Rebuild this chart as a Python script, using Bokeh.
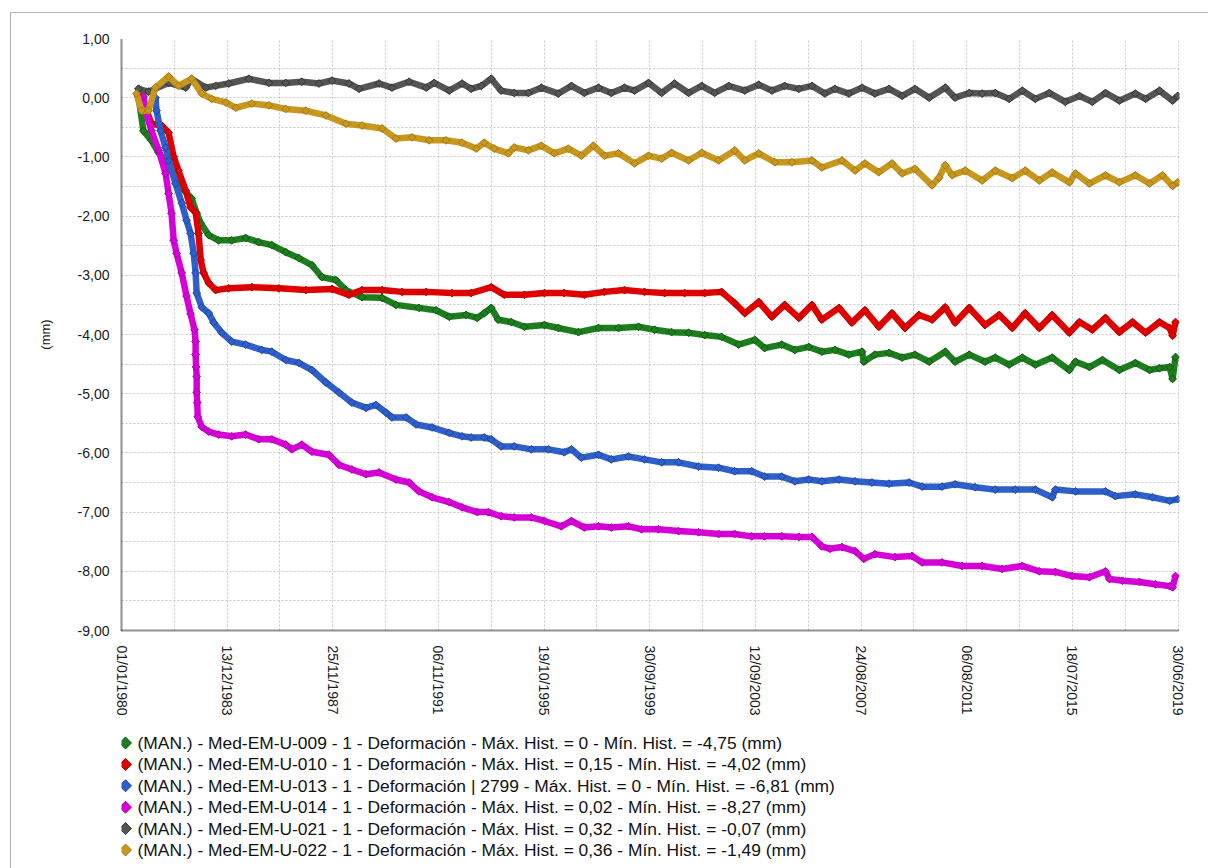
from datetime import datetime, timedelta
from math import pi

from bokeh.core.properties import value
from bokeh.embed import file_html
from bokeh.layouts import column
from bokeh.models import DatetimeTickFormatter, FixedTicker, Range1d
from bokeh.plotting import figure
from bokeh.resources import INLINE

# ---------------------------------------------------------------- axes
x_tick_labels = ["01/01/1980", "13/12/1983", "25/11/1987", "06/11/1991",
                 "19/10/1995", "30/09/1999", "12/09/2003", "24/08/2007",
                 "06/08/2011", "18/07/2015", "30/06/2019"]
y_tick_values = [1, 0, -1, -2, -3, -4, -5, -6, -7, -8, -9]
y_tick_labels = ["1,00", "0,00", "-1,00", "-2,00", "-3,00", "-4,00",
                 "-5,00", "-6,00", "-7,00", "-8,00", "-9,00"]

# ---------------------------------------------------------------- series
# (decimal year, deformation in mm)
names = [
    "(MAN.) - Med-EM-U-009 - 1 - Deformación - Máx. Hist. = 0 - Mín. Hist. = -4,75 (mm)",
    "(MAN.) - Med-EM-U-010 - 1 - Deformación - Máx. Hist. = 0,15 - Mín. Hist. = -4,02 (mm)",
    "(MAN.) - Med-EM-U-013 - 1 - Deformación | 2799 - Máx. Hist. = 0 - Mín. Hist. = -6,81 (mm)",
    "(MAN.) - Med-EM-U-014 - 1 - Deformación - Máx. Hist. = 0,02 - Mín. Hist. = -8,27 (mm)",
    "(MAN.) - Med-EM-U-021 - 1 - Deformación - Máx. Hist. = 0,32 - Mín. Hist. = -0,07 (mm)",
    "(MAN.) - Med-EM-U-022 - 1 - Deformación - Máx. Hist. = 0,36 - Mín. Hist. = -1,49 (mm)",
]
colors = ["#1e7d1e", "#e00000", "#2f5fc8", "#d800d8", "#555555", "#c8981e"]
edges = ["#0f5a0f", "#b00000", "#1f45a0", "#a800a8", "#333333", "#a07815"]

u009_t = [1980.64, 1980.82, 1981.12, 1981.39, 1981.87, 1982.25, 1982.62, 1982.81,
          1982.96, 1983.26, 1983.63, 1984.12, 1984.64, 1985.13, 1985.62, 1986.14,
          1986.63, 1987.12, 1987.49, 1988.01, 1988.39, 1988.99, 1989.74, 1990.26,
          1991.12, 1991.76, 1992.25, 1992.88, 1993.30, 1993.56, 1993.82, 1994.08,
          1994.57, 1995.06, 1995.81, 1996.33, 1997.08, 1997.83, 1998.58, 1999.33,
          1999.93, 2000.56, 2001.20, 2001.80, 2002.43, 2003.07, 2003.67, 2004.04,
          2004.68, 2005.17, 2005.69, 2006.18, 2006.67, 2007.19, 2007.68, 2007.75,
          2008.16, 2008.69, 2009.18, 2009.66, 2010.19, 2010.79, 2011.16, 2011.69,
          2012.28, 2012.66, 2013.18, 2013.67, 2014.16, 2014.79, 2015.43, 2015.66,
          2016.18, 2016.67, 2017.30, 2017.90, 2018.43, 2018.80, 2019.18, 2019.29,
          2019.40]
u009_v = [0.00, -0.56, -0.72, -0.93, -1.23, -1.52, -1.70, -1.95,
          -2.12, -2.32, -2.41, -2.41, -2.37, -2.44, -2.49, -2.61,
          -2.71, -2.83, -3.03, -3.08, -3.25, -3.37, -3.38, -3.50,
          -3.55, -3.59, -3.70, -3.67, -3.72, -3.64, -3.55, -3.75,
          -3.79, -3.87, -3.84, -3.89, -3.96, -3.89, -3.89, -3.87,
          -3.92, -3.96, -3.97, -4.01, -4.04, -4.17, -4.09, -4.23,
          -4.17, -4.26, -4.21, -4.29, -4.26, -4.34, -4.29, -4.46,
          -4.34, -4.31, -4.39, -4.34, -4.46, -4.29, -4.46, -4.34,
          -4.46, -4.39, -4.51, -4.39, -4.51, -4.39, -4.60, -4.46,
          -4.55, -4.43, -4.60, -4.48, -4.60, -4.57, -4.55, -4.75,
          -4.38]

u010_t = [1980.64, 1981.12, 1981.50, 1981.76, 1981.95, 1982.13, 1982.40, 1982.58,
          1982.77, 1982.88, 1982.96, 1983.07, 1983.26, 1983.52, 1984.01, 1984.87,
          1985.88, 1986.89, 1987.87, 1988.50, 1988.99, 1989.74, 1990.49, 1991.39,
          1992.36, 1993.07, 1993.82, 1994.31, 1995.06, 1995.81, 1996.55, 1997.30,
          1998.05, 1998.80, 1999.55, 2000.30, 2001.05, 2001.80, 2002.43, 2002.92,
          2003.30, 2003.82, 2004.31, 2004.79, 2005.32, 2005.81, 2006.18, 2006.82,
          2007.30, 2007.79, 2008.31, 2008.80, 2009.29, 2009.81, 2010.30, 2010.79,
          2011.16, 2011.69, 2012.28, 2012.81, 2013.30, 2013.78, 2014.31, 2014.79,
          2015.43, 2015.81, 2016.29, 2016.78, 2017.30, 2017.79, 2018.28, 2018.80,
          2019.18, 2019.29, 2019.40]
u010_v = [0.15, -0.44, -0.47, -0.59, -1.00, -1.23, -1.57, -1.85,
          -1.94, -2.29, -2.74, -2.96, -3.13, -3.25, -3.22, -3.20,
          -3.22, -3.25, -3.23, -3.33, -3.25, -3.25, -3.28, -3.28,
          -3.30, -3.30, -3.20, -3.33, -3.33, -3.30, -3.30, -3.33,
          -3.28, -3.25, -3.28, -3.30, -3.30, -3.30, -3.28, -3.47,
          -3.64, -3.45, -3.70, -3.50, -3.72, -3.50, -3.75, -3.55,
          -3.80, -3.59, -3.87, -3.64, -3.89, -3.67, -3.75, -3.54,
          -3.80, -3.55, -3.84, -3.67, -3.89, -3.64, -3.89, -3.67,
          -3.97, -3.79, -3.92, -3.72, -3.96, -3.79, -3.97, -3.79,
          -3.89, -4.02, -3.79]

u013_t = [1981.27, 1981.31, 1981.46, 1981.65, 1981.76, 1982.02, 1982.25, 1982.43,
          1982.58, 1982.70, 1982.77, 1982.81, 1983.00, 1983.26, 1983.45, 1983.75,
          1984.12, 1984.64, 1985.24, 1985.62, 1986.14, 1986.63, 1987.12, 1987.64,
          1988.13, 1988.61, 1989.14, 1989.51, 1989.89, 1990.11, 1990.64, 1991.01,
          1991.61, 1992.25, 1992.73, 1993.07, 1993.56, 1993.82, 1994.19, 1994.68,
          1995.32, 1995.96, 1996.55, 1996.82, 1997.19, 1997.83, 1998.31, 1998.95,
          1999.55, 2000.19, 2000.82, 2001.57, 2002.32, 2002.92, 2003.56, 2004.04,
          2004.68, 2005.17, 2005.69, 2006.18, 2006.82, 2007.42, 2008.05, 2008.69,
          2009.44, 2009.93, 2010.67, 2011.16, 2011.91, 2012.66, 2013.41, 2014.16,
          2014.79, 2014.91, 2015.66, 2016.78, 2017.15, 2017.90, 2018.54, 2019.18,
          2019.48]
u013_v = [0.00, -0.22, -0.56, -0.84, -1.06, -1.45, -1.78, -2.07,
          -2.29, -2.63, -2.96, -3.30, -3.54, -3.64, -3.80, -3.97,
          -4.12, -4.17, -4.26, -4.29, -4.43, -4.48, -4.60, -4.81,
          -4.98, -5.15, -5.24, -5.19, -5.32, -5.40, -5.40, -5.52,
          -5.57, -5.66, -5.72, -5.74, -5.74, -5.77, -5.89, -5.89,
          -5.94, -5.94, -5.99, -5.94, -6.08, -6.03, -6.11, -6.06,
          -6.11, -6.16, -6.16, -6.23, -6.25, -6.31, -6.31, -6.40,
          -6.40, -6.48, -6.45, -6.48, -6.45, -6.48, -6.50, -6.52,
          -6.50, -6.57, -6.57, -6.53, -6.58, -6.62, -6.62, -6.62,
          -6.75, -6.62, -6.65, -6.65, -6.73, -6.70, -6.75, -6.81,
          -6.78]

u014_t = [1980.82, 1980.90, 1981.12, 1981.39, 1981.65, 1981.76, 1981.87, 1981.95,
          1982.06, 1982.25, 1982.43, 1982.58, 1982.73, 1982.77, 1982.77, 1982.79,
          1982.81, 1982.81, 1982.83, 1982.85, 1983.00, 1983.26, 1983.63, 1984.12,
          1984.64, 1985.13, 1985.62, 1986.14, 1986.37, 1986.74, 1987.12, 1987.75,
          1988.13, 1988.61, 1989.14, 1989.63, 1990.26, 1990.75, 1991.12, 1991.61,
          1992.25, 1992.73, 1993.30, 1993.71, 1994.19, 1994.68, 1995.32, 1995.81,
          1996.44, 1996.82, 1997.30, 1997.83, 1998.31, 1998.95, 1999.44, 2000.07,
          2000.82, 2001.57, 2002.32, 2002.92, 2003.56, 2004.04, 2004.68, 2005.32,
          2005.81, 2006.18, 2006.48, 2006.93, 2007.42, 2007.75, 2008.16, 2008.91,
          2009.55, 2009.93, 2010.67, 2011.42, 2012.17, 2012.92, 2013.67, 2014.31,
          2014.91, 2015.54, 2016.18, 2016.78, 2016.93, 2017.42, 2018.05, 2018.65,
          2019.18, 2019.29, 2019.40]
u014_v = [0.02, -0.22, -0.56, -0.89, -1.28, -1.62, -1.95, -2.41,
          -2.63, -2.96, -3.35, -3.65, -3.92, -4.12, -4.34, -4.55,
          -4.71, -4.98, -5.15, -5.39, -5.56, -5.64, -5.69, -5.72,
          -5.69, -5.77, -5.77, -5.86, -5.94, -5.86, -5.98, -6.03,
          -6.20, -6.28, -6.36, -6.33, -6.45, -6.50, -6.65, -6.75,
          -6.83, -6.92, -7.00, -7.00, -7.07, -7.09, -7.09, -7.15,
          -7.24, -7.15, -7.26, -7.24, -7.26, -7.24, -7.29, -7.29,
          -7.32, -7.34, -7.37, -7.37, -7.41, -7.41, -7.41, -7.42,
          -7.42, -7.58, -7.62, -7.59, -7.66, -7.79, -7.71, -7.76,
          -7.74, -7.85, -7.85, -7.91, -7.91, -7.96, -7.91, -8.00,
          -8.01, -8.08, -8.10, -8.00, -8.13, -8.16, -8.18, -8.22,
          -8.25, -8.27, -8.08]

u021_t = [1980.64, 1981.01, 1981.76, 1982.40, 1982.62, 1983.15, 1983.52, 1984.01,
          1984.76, 1985.51, 1986.14, 1986.74, 1987.38, 1987.87, 1988.50, 1988.88,
          1989.63, 1990.11, 1990.75, 1991.39, 1991.69, 1992.25, 1992.73, 1993.07,
          1993.45, 1993.82, 1994.19, 1994.68, 1995.21, 1995.69, 1996.33, 1996.82,
          1997.30, 1997.83, 1998.31, 1998.80, 1999.18, 1999.70, 2000.19, 2000.67,
          2001.20, 2001.69, 2002.17, 2002.70, 2003.30, 2003.82, 2004.31, 2004.79,
          2005.32, 2005.81, 2006.29, 2006.67, 2007.19, 2007.68, 2008.16, 2008.69,
          2009.18, 2009.66, 2010.19, 2010.79, 2011.16, 2011.69, 2012.17, 2012.66,
          2013.18, 2013.67, 2014.16, 2014.68, 2015.28, 2015.81, 2016.29, 2016.78,
          2017.30, 2017.90, 2018.28, 2018.80, 2019.29, 2019.48]
u021_v = [0.15, 0.10, 0.25, 0.17, 0.32, 0.17, 0.20, 0.24,
          0.32, 0.25, 0.25, 0.27, 0.24, 0.29, 0.24, 0.15,
          0.24, 0.17, 0.27, 0.17, 0.25, 0.12, 0.24, 0.15,
          0.20, 0.32, 0.12, 0.08, 0.08, 0.17, 0.07, 0.20,
          0.08, 0.17, 0.08, 0.17, 0.12, 0.25, 0.08, 0.24,
          0.08, 0.20, 0.08, 0.20, 0.12, 0.22, 0.12, 0.20,
          0.15, 0.20, 0.07, 0.15, 0.07, 0.17, 0.07, 0.15,
          0.03, 0.15, 0.00, 0.17, 0.00, 0.08, 0.07, 0.08,
          -0.02, 0.12, -0.02, 0.08, -0.07, 0.03, -0.07, 0.08,
          -0.05, 0.07, -0.02, 0.12, -0.05, 0.03]

u022_t = [1980.56, 1980.75, 1981.01, 1981.27, 1981.76, 1982.13, 1982.62, 1983.00,
          1983.37, 1983.90, 1984.27, 1984.87, 1985.51, 1986.14, 1986.89, 1987.64,
          1988.39, 1988.99, 1989.74, 1990.26, 1990.86, 1991.50, 1992.13, 1992.73,
          1993.26, 1993.56, 1993.93, 1994.46, 1994.68, 1995.21, 1995.69, 1996.18,
          1996.70, 1997.19, 1997.64, 1998.05, 1998.58, 1999.18, 1999.70, 2000.19,
          2000.56, 2001.20, 2001.69, 2002.32, 2002.92, 2003.30, 2003.82, 2004.42,
          2005.06, 2005.81, 2006.18, 2006.93, 2007.42, 2007.79, 2008.31, 2008.80,
          2009.18, 2009.66, 2010.30, 2010.56, 2010.79, 2011.05, 2011.54, 2012.17,
          2012.66, 2013.30, 2013.78, 2014.31, 2014.79, 2015.43, 2015.66, 2016.18,
          2016.78, 2017.30, 2017.90, 2018.43, 2018.91, 2019.29, 2019.48]
u022_v = [0.07, -0.22, -0.22, 0.17, 0.36, 0.20, 0.32, 0.07,
          -0.02, -0.08, -0.17, -0.10, -0.13, -0.19, -0.22, -0.30,
          -0.44, -0.47, -0.52, -0.69, -0.67, -0.72, -0.72, -0.76,
          -0.86, -0.76, -0.86, -0.94, -0.84, -0.89, -0.81, -0.94,
          -0.86, -0.98, -0.81, -0.98, -0.94, -1.11, -0.98, -1.03,
          -0.93, -1.06, -0.93, -1.06, -0.89, -1.06, -0.94, -1.09,
          -1.09, -1.06, -1.18, -1.06, -1.23, -1.11, -1.26, -1.11,
          -1.28, -1.20, -1.48, -1.35, -1.14, -1.31, -1.23, -1.40,
          -1.23, -1.36, -1.23, -1.40, -1.26, -1.43, -1.28, -1.45,
          -1.31, -1.43, -1.31, -1.45, -1.31, -1.49, -1.43]

series_t = [u009_t, u010_t, u013_t, u014_t, u021_t, u022_t]
series_v = [u009_v, u010_v, u013_v, u014_v, u021_v, u022_v]

# ---------------------------------------------------------------- helpers
EPOCH = datetime(1980, 1, 1)


def year_to_date(year):
    return EPOCH + timedelta(days=(year - 1980.0) * 365.25)


def to_ms(dt):
    return (dt - datetime(1970, 1, 1)).total_seconds() * 1000.0


tick_dates = [datetime.strptime(s, "%d/%m/%Y") for s in x_tick_labels]
tick_ms = [to_ms(d) for d in tick_dates]
grid_ms = []
for a, b in zip(tick_ms[:-1], tick_ms[1:]):
    grid_ms += [a, (a + b) / 2.0]
grid_ms.append(tick_ms[-1])

FONT = "Liberation Sans"

# ---------------------------------------------------------------- chart
p = figure(width=1197, height=712, x_axis_type="datetime",
           output_backend="svg", toolbar_location=None,
           x_range=Range1d(tick_ms[0], tick_ms[-1] + 20 * 86400000.0),
           y_range=Range1d(-9, 1),
           min_border_left=110, min_border_right=29,
           min_border_top=25, min_border_bottom=95,
           background_fill_color="white", border_fill_color="white")
p.outline_line_color = None

# grid: dotted light grey at half intervals
p.xgrid.ticker = FixedTicker(ticks=grid_ms)
p.ygrid.ticker = FixedTicker(ticks=[v / 2.0 for v in range(-18, 3)])
for g in (p.xgrid, p.ygrid):
    g.grid_line_color = "#c9c9c9"
    g.grid_line_dash = "2 2"
    g.grid_line_width = 1

xa = p.xaxis[0]
xa.ticker = FixedTicker(ticks=tick_ms)
fmt = "%d/%m/%Y"
xa.formatter = DatetimeTickFormatter(milliseconds=fmt, seconds=fmt, minsec=fmt,
                                     minutes=fmt, hourmin=fmt, hours=fmt,
                                     days=fmt, months=fmt, years=fmt)
xa.major_label_orientation = "vertical"
xa.major_label_standoff = 9

ya = p.yaxis[0]
ya.ticker = FixedTicker(ticks=y_tick_values)
ya.major_label_overrides = {float(v): s for v, s in zip(y_tick_values, y_tick_labels)}
ya.major_label_standoff = 6
ya.axis_label = "(mm)"
ya.axis_label_standoff = 22
ya.axis_label_text_font = FONT
ya.axis_label_text_font_size = "13px"
ya.axis_label_text_font_style = "normal"
ya.axis_label_text_color = "#222222"

for ax in (xa, ya):
    ax.axis_line_color = "#202020"
    ax.axis_line_dash = "1 1"
    ax.axis_line_width = 2
    ax.major_tick_line_color = None
    ax.minor_tick_line_color = None
    ax.major_label_text_font = FONT
    ax.major_label_text_font_size = "14px"
    ax.major_label_text_color = "#1a1a1a"

# data: thick line through the readings with a diamond at each reading
for t, v, c, e in zip(series_t, series_v, colors, edges):
    xs = [year_to_date(y) for y in t]
    p.line(xs, v, line_color=c, line_width=6.5, line_join="round")
    p.scatter(xs, v, marker="square", angle=pi / 4, size=5.5, fill_color=c,
              line_color=e, line_width=1)

# ---------------------------------------------------------------- legend strip
# a key panel in pixel units: one row per series, diamond key + label
KEY_W, KEY_H = 1058, 143
ROW_TOP, ROW_STEP = 17.5, 21.4
k = figure(width=1197, height=KEY_H, output_backend="svg", toolbar_location=None,
           x_axis_location=None, y_axis_location=None,
           x_range=Range1d(0, KEY_W), y_range=Range1d(0, KEY_H),
           min_border_left=110, min_border_right=29,
           min_border_top=0, min_border_bottom=0,
           background_fill_color="white", border_fill_color="white")
k.grid.visible = False
k.outline_line_color = None

rows = [KEY_H - ROW_TOP - i * ROW_STEP for i in range(len(names))]
k.scatter([4] * len(names), rows, marker="square", angle=pi / 4, size=8.5,
          fill_color=colors, line_color=edges, line_width=1)
k.text([16] * len(names), rows, text=names, text_font=value(FONT),
       text_font_size="17.4px", text_baseline="middle", text_align="left",
       text_color="#111111")

page = column(p, k, spacing=0)
page.margin = (12, 0, 0, 10)
page.styles = {"border-left": "1px solid #b4b4b4", "border-top": "1px solid #b4b4b4"}

open("out.html", "w").write(file_html(page, INLINE))
